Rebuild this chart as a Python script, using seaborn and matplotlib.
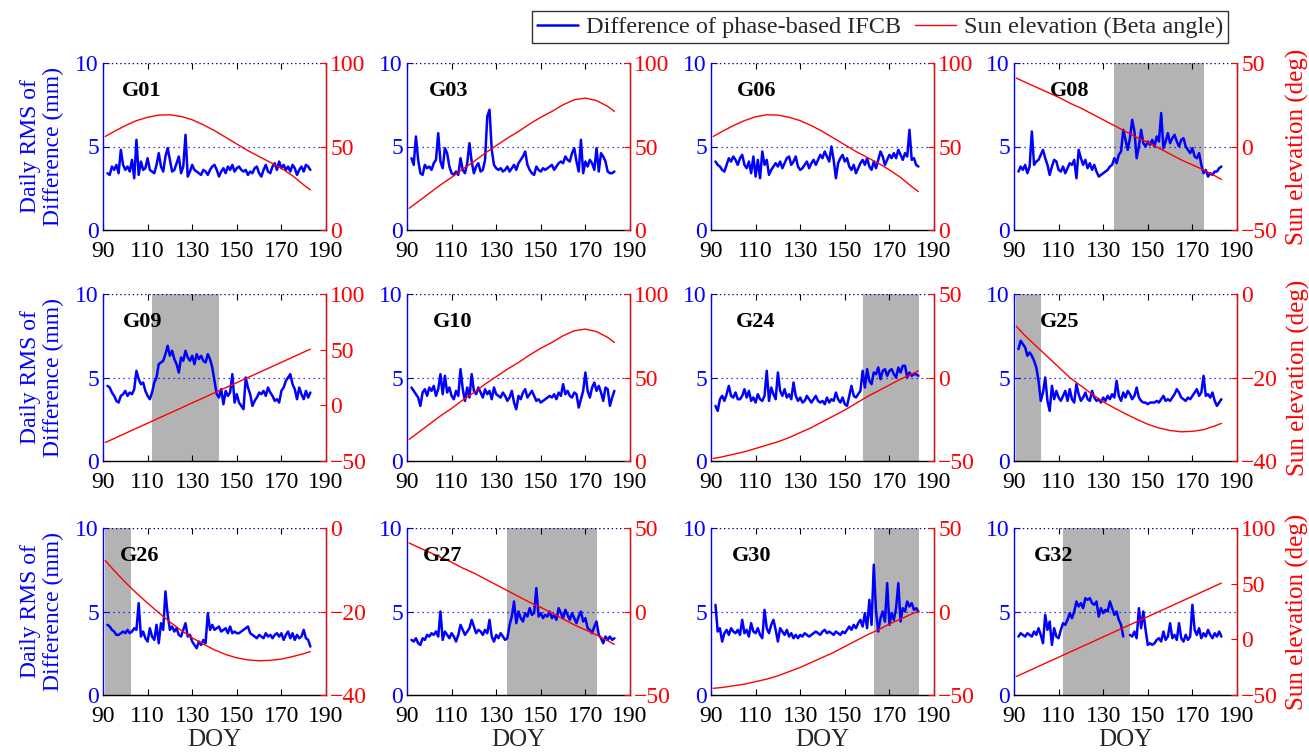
import numpy as np
import pandas as pd
import matplotlib
matplotlib.use("Agg")
import matplotlib.pyplot as plt
from matplotlib.lines import Line2D
import seaborn as sns

# ---------------- data ----------------
sats = ["G01", "G03", "G06", "G08", "G09", "G10", "G24", "G25", "G26", "G27", "G30", "G32"]
doy = list(range(92, 184))
nan = float("nan")

rms_G01 = [3.4, 3.3, 3.8, 3.6, 3.9, 3.4, 4.8, 3.9, 3.6, 3.8,
           3.5, 4.2, 3.1, 5.4, 3.3, 4.1, 3.6, 3.7, 4.3, 3.6,
           3.5, 3.4, 3.9, 4.6, 3.8, 3.5, 4.4, 4.9, 4.2, 3.5,
           3.6, 4.0, 4.4, 3.4, 3.8, 5.7, 3.2, 3.5, 3.9, 3.6,
           3.5, 3.4, 3.3, 3.6, 3.5, 3.3, 3.6, 3.8, 3.9, 3.6,
           3.2, 3.5, 3.7, 3.4, 3.8, 3.6, 3.9, 3.5, 3.7, 3.8,
           3.6, 3.5, 3.6, 3.3, 3.5, 3.4, 3.7, 3.8, 3.4, 3.2,
           3.6, 3.9, 3.5, 3.4, 3.8, 4.0, 3.6, 4.1, 3.7, 3.9,
           3.6, 3.8, 3.5, 3.9, 3.7, 3.3, 3.6, 3.8, 3.5, 3.9,
           3.8, 3.6]
rms_G03 = [4.3, 3.9, 5.6, 4.2, 3.4, 3.3, 3.9, 3.7, 3.8, 3.6,
           4.0, 4.2, 5.8, 4.1, 3.7, 4.9, 4.6, 3.8, 3.4, 3.3,
           3.5, 3.3, 4.3, 3.6, 3.4, 4.0, 5.2, 4.1, 3.4, 3.8,
           4.0, 3.5, 3.6, 4.2, 6.8, 7.2, 4.8, 3.9, 3.7, 3.6,
           3.7, 3.5, 3.6, 3.8, 3.5, 3.7, 3.9, 3.6, 4.0, 4.2,
           4.4, 4.7, 3.9, 3.6, 3.4, 3.3, 3.8, 3.6, 3.5, 3.7,
           3.6, 3.7, 3.8, 3.9, 3.6, 3.8, 4.0, 4.1, 4.0, 4.4,
           4.2, 4.1, 4.6, 4.9, 4.1, 3.5, 5.4, 3.4, 4.1, 3.8,
           4.2, 4.0, 3.6, 4.9, 3.5, 4.6, 4.4, 4.1, 3.5, 3.4,
           3.4, 3.5]
rms_G06 = [4.1, 3.9, 3.8, 3.6, 3.5, 3.9, 4.3, 4.1, 4.4, 4.2,
           3.9, 4.3, 4.5, 3.9, 3.7, 4.1, 3.4, 4.4, 3.2, 4.2,
           3.1, 4.7, 3.9, 4.2, 3.3, 3.6, 3.8, 4.0, 3.8, 4.1,
           3.7, 4.0, 4.3, 4.4, 3.9, 4.1, 4.4, 3.8, 3.6, 3.7,
           3.9, 4.1, 3.7, 4.0, 4.2, 3.9, 4.2, 4.5, 4.3, 4.7,
           4.4, 4.1, 5.0, 4.2, 3.1, 4.0, 4.3, 4.5, 4.1, 4.3,
           3.8, 3.6, 3.9, 3.4, 3.7, 4.0, 4.2, 3.9, 4.3, 3.8,
           3.6, 4.1, 3.7, 4.2, 4.7, 4.4, 3.9, 4.2, 4.5, 4.3,
           4.6, 4.3, 4.8, 4.5, 4.2, 4.6, 4.4, 6.0, 4.2, 4.3,
           3.9, 3.8]
rms_G08 = [3.5, 3.8, 3.6, 3.9, 3.4, 3.8, 5.9, 3.9, 4.1, 4.2,
           4.5, 4.8, 4.3, 3.9, 3.3, 3.8, 4.2, 4.1, 3.6, 3.5,
           3.8, 3.4, 3.7, 4.0, 3.9, 4.2, 3.1, 4.8, 4.3, 3.9,
           4.2, 3.7, 4.0, 3.6, 3.9, 3.5, 3.2, 3.3, 3.4, 3.5,
           3.6, 3.8, 3.9, 4.3, 4.0, 4.5, 4.7, 6.0, 5.4, 4.8,
           5.5, 6.6, 5.9, 4.3, 5.0, 6.0, 5.2, 5.0, 5.3, 5.1,
           5.4, 5.0, 5.6, 5.3, 7.0, 4.9, 5.3, 5.8, 5.2, 5.5,
           5.7, 5.3, 5.0, 5.4, 5.5, 5.0, 4.8, 4.6, 4.9, 4.4,
           4.3, 4.6, 3.9, 3.4, 3.6, 3.2, 3.4, 3.3, 3.5, 3.5,
           3.7, 3.8]
rms_G09 = [4.5, 4.4, 4.1, 3.9, 3.6, 3.5, 3.9, 4.0, 4.2, 3.9,
           4.1, 4.0, 4.3, 5.4, 4.9, 4.6, 4.7, 4.2, 3.9, 3.7,
           4.1, 4.7, 5.0, 5.8, 5.9, 6.0, 6.4, 6.9, 6.3, 6.6,
           6.1, 5.8, 5.3, 6.2, 6.0, 6.6, 6.2, 6.0, 6.3, 5.8,
           6.4, 6.1, 6.3, 6.0, 5.9, 6.4, 6.1, 5.6, 4.8, 4.0,
           3.8, 4.3, 3.4, 4.2, 3.9, 4.1, 5.2, 3.5, 4.0, 3.5,
           3.3, 3.1, 5.0, 4.4, 4.0, 3.3, 3.6, 3.8, 4.1, 4.0,
           4.2, 3.9, 4.4, 4.1, 3.9, 3.6, 3.7, 3.5, 4.2, 4.4,
           4.8, 5.0, 5.2, 4.6, 4.3, 3.7, 4.4, 4.0, 3.7, 4.2,
           3.8, 4.1]
rms_G10 = [4.4, 4.2, 4.0, 3.8, 3.3, 4.1, 4.3, 3.9, 4.4, 4.2,
           4.5, 3.9, 4.3, 5.2, 4.0, 5.1, 4.1, 4.4, 3.9, 3.7,
           4.2, 3.9, 5.5, 4.3, 3.6, 4.4, 3.8, 5.2, 4.2, 4.0,
           4.4, 4.1, 3.8, 4.3, 4.0, 4.2, 3.7, 4.4, 4.0, 3.9,
           3.8, 4.1, 3.9, 3.6, 3.8, 4.2, 3.5, 3.1, 3.9, 3.7,
           4.1, 4.3, 3.8, 4.0, 4.2, 3.9, 3.6, 3.7, 3.5, 3.6,
           3.7, 3.8, 3.9, 3.8, 4.0, 3.7, 4.1, 3.9, 4.6, 4.0,
           4.2, 3.9, 3.8, 4.1, 4.0, 3.2, 3.7, 4.2, 5.3, 4.2,
           3.8, 4.4, 4.7, 4.2, 4.5, 4.1, 3.6, 4.4, 4.3, 3.3,
           3.8, 4.2]
rms_G24 = [3.3, 3.0, 3.7, 3.9, 3.6, 4.0, 4.5, 3.9, 3.8, 4.1,
           3.7, 3.7, 3.9, 4.3, 3.8, 4.2, 3.6, 3.8, 3.5, 4.0,
           3.7, 3.6, 3.9, 5.4, 3.6, 4.4, 4.0, 3.7, 5.3, 4.2,
           3.9, 4.3, 3.8, 4.0, 3.7, 4.7, 3.9, 3.6, 3.8, 3.5,
           3.6, 3.9, 3.7, 3.5, 3.7, 3.9, 3.6, 3.5, 3.6, 3.4,
           3.8, 3.5, 3.7, 3.6, 4.1, 3.7, 3.5, 3.8, 3.4, 3.3,
           3.9, 4.5, 3.9, 3.8, 4.0, 4.2, 5.4, 4.4, 5.5, 4.8,
           4.6, 5.3, 5.2, 5.6, 4.9, 5.4, 5.5, 5.1, 5.4, 5.5,
           5.2, 5.0, 5.6, 5.3, 5.7, 5.7, 5.0, 5.3, 5.1, 5.2,
           5.2, 5.1]
rms_G25 = [6.7, 7.2, 7.0, 6.8, 6.3, 6.5, 6.3, 6.0, 5.6, 4.8,
           3.6, 4.1, 5.0, 3.6, 3.0, 4.5, 3.7, 4.2, 3.8, 3.6,
           3.9, 4.2, 3.6, 4.3, 3.7, 3.5, 4.6, 4.0, 3.6, 3.8,
           4.1, 3.7, 3.6, 4.2, 3.8, 3.6, 3.7, 3.5, 3.8, 3.6,
           3.9, 3.7, 4.0, 3.8, 4.8, 3.9, 3.6, 4.1, 3.8, 4.2,
           4.0, 3.7, 3.9, 4.4, 3.8, 3.6, 3.5, 3.5, 3.4, 3.5,
           3.5, 3.5, 3.6, 3.5, 3.7, 3.9, 3.6, 3.7, 3.6, 3.8,
           4.0, 4.3, 4.1, 3.8, 3.7, 3.6, 3.8, 3.7, 3.9, 4.1,
           4.3, 3.9, 4.1, 5.1, 3.9, 4.0, 3.8, 4.1, 3.6, 3.3,
           3.5, 3.7]
rms_G26 = [4.2, 4.1, 3.9, 3.8, 3.6, 3.6, 3.7, 3.8, 3.7, 3.9,
           3.7, 3.8, 4.0, 3.9, 5.5, 3.5, 3.8, 3.4, 3.2, 4.0,
           3.5, 3.3, 4.2, 3.1, 4.3, 3.9, 6.2, 4.8, 3.9, 4.1,
           3.8, 4.0, 3.6, 3.5, 3.9, 4.3, 3.5, 3.6, 3.2, 3.0,
           2.8, 3.2, 3.0, 3.3, 3.1, 4.9, 3.9, 4.2, 3.9, 4.0,
           4.1, 3.8, 3.9, 4.0, 3.7, 4.1, 3.7, 3.8, 3.7, 3.7,
           3.8, 3.9, 4.0, 4.1, 3.7, 3.6, 3.5, 3.4, 3.6, 3.5,
           3.4, 3.7, 3.5, 3.6, 3.4, 3.6, 3.7, 3.5, 3.7, 3.3,
           3.6, 3.8, 3.4, 3.7, 3.3, 3.6, 3.4, 3.5, 3.9, 3.4,
           3.3, 2.9]
rms_G27 = [3.3, 3.2, 3.4, 3.1, 3.0, 3.4, 3.3, 3.6, 3.5, 3.7,
           3.6, 3.8, 3.5, 5.0, 3.3, 3.8, 3.6, 3.4, 3.7, 3.5,
           3.2, 3.6, 4.2, 3.9, 3.6, 3.8, 4.0, 4.5, 4.1, 3.7,
           3.9, 3.8, 3.6, 3.9, 3.7, 4.5, 3.5, 3.2, 3.6, 3.4,
           3.7, 3.5, 3.3, 3.4, 4.2, 4.7, 5.6, 4.3, 5.0, 4.6,
           4.4, 4.9, 4.7, 5.2, 4.8, 4.9, 6.4, 4.7, 4.9, 4.6,
           4.8, 4.7, 5.0, 4.6, 4.8, 4.5, 5.2, 4.9, 4.6, 5.1,
           4.8, 4.5, 4.9, 4.6, 4.3, 4.7, 5.0, 4.4, 4.6, 4.0,
           3.9, 3.7, 4.1, 4.4, 3.6, 3.4, 3.1, 3.5, 3.3, 3.5,
           3.3, 3.4]
rms_G30 = [5.4, 3.8, 4.0, 3.2, 3.7, 3.9, 3.6, 4.0, 3.8, 3.7,
           3.9, 3.6, 4.5, 3.7, 3.9, 3.5, 4.3, 3.8, 3.7, 4.0,
           3.6, 3.4, 5.1, 4.0, 3.7, 4.2, 4.5, 3.9, 3.2, 4.0,
           3.8, 3.6, 3.9, 3.5, 3.7, 3.4, 3.6, 3.4, 3.6, 3.5,
           3.7, 3.6, 3.5, 3.6, 3.7, 3.8, 3.7, 3.6, 3.8, 3.9,
           3.7, 3.8, 3.7, 3.6, 3.8, 3.7, 3.6, 3.8, 3.7, 3.9,
           4.1, 3.9, 4.2, 4.0, 4.3, 4.5, 4.1, 4.9, 4.0, 5.7,
           4.2, 7.8, 5.0, 3.8, 4.6, 5.0, 4.4, 6.7, 4.2, 4.9,
           4.5, 5.2, 6.7, 4.4, 5.2, 5.0, 5.6, 5.3, 5.5, 5.1,
           5.2, 5.0]
rms_G32 = [3.5, 3.7, 3.6, 3.5, 3.7, 3.6, 3.5, 3.8, 3.6, 4.0,
           3.6, 3.1, 4.8, 3.9, 4.4, 3.0, 4.0, 3.5, 3.4, 3.9,
           4.3, 4.2, 4.5, 4.9, 4.6, 5.0, 5.6, 5.3, 5.5, 5.2,
           5.8, 5.7, 5.8, 5.5, 5.4, 5.6, 4.7, 5.2, 4.9, 5.1,
           5.0, 5.6, 5.2, 4.8, 5.0, 4.5, 4.2, 3.5, nan, nan,
           3.6, 3.5, 3.8, 3.4, 5.2, 4.0, 5.0, 3.9, 3.0, 3.1,
           3.0, 3.1, 3.3, 3.4, 3.2, 3.8, 3.3, 3.5, 4.3, 3.4,
           3.6, 3.3, 4.3, 3.4, 3.2, 3.6, 3.3, 3.5, 5.4, 3.9,
           3.6, 4.0, 3.4, 3.7, 3.5, 3.9, 3.6, 3.4, 3.7, 3.5,
           3.8, 3.5]

sun_doy = [91, 95, 100, 105, 110, 115, 120, 125, 130, 135, 140, 145, 150, 155, 160, 165, 170, 175, 180, 183]
sun_G01 = [56, 59, 62.5, 65.5, 67.5, 68.8, 69, 68, 66, 63, 59.5, 55.5, 51.5, 47.5, 44, 40.5, 37, 32.5, 27, 24]
sun_G03 = [13, 17, 22, 27, 31.5, 36.5, 41, 46, 50.5, 55, 59, 63.5, 67.5, 71, 75, 78, 79, 77.5, 74, 71]
sun_G06 = [56, 59, 62.5, 65.5, 67.8, 69, 68.8, 67.5, 65.5, 62.5, 59, 55, 51, 47, 43.5, 40, 36, 31.5, 26, 23]
sun_G08 = [41, 38.5, 35.5, 32.5, 29.5, 26, 23, 19.5, 16, 12.5, 9, 5.5, 2.5, -1, -4.5, -8, -11, -14, -17.5, -19.7]
sun_G09 = [-33.4, -29.8, -25.2, -20.6, -16.1, -11.5, -7, -2.4, 2.2, 6.7, 11.3, 15.8, 20.4, 25, 29.5, 34.1, 38.6, 43.2, 47.8, 50.5]
sun_G10 = [13, 17, 22, 27, 31.5, 36.5, 41, 46, 50.5, 55, 59, 63.5, 67.5, 71, 75, 78, 79, 77.5, 74, 71]
sun_G24 = [-48.5, -47.5, -46, -44.5, -42.5, -40.5, -38.5, -36, -33, -30, -26.5, -23, -19.5, -15.5, -11.5, -8, -4.5, -1, 2, 4]
sun_G25 = [-7.7, -10, -12.5, -15, -17.5, -20, -22, -24, -25.8, -27.3, -28.7, -30, -31.2, -32.1, -32.7, -33, -32.9, -32.5, -31.6, -31]
sun_G26 = [-7.8, -10.2, -13, -15.6, -18, -20.3, -22.5, -24.5, -26.3, -27.8, -29.2, -30.3, -31.1, -31.6, -31.8, -31.7, -31.4, -30.8, -30.1, -29.6]
sun_G27 = [41, 38.5, 35.5, 32.5, 29.5, 26, 23, 19.5, 16, 12.5, 9, 5.5, 2.5, -1, -4.5, -8, -11, -14, -17.5, -19.7]
sun_G30 = [-46, -45.5, -44.5, -43.5, -42, -40.5, -38.5, -36, -33.5, -30.5, -27.5, -24.5, -21, -17.5, -14, -11, -7.5, -4.5, -1.5, 0.3]
sun_G32 = [-33.4, -29.8, -25.2, -20.6, -16.1, -11.5, -7, -2.4, 2.2, 6.7, 11.3, 15.8, 20.4, 25, 29.5, 34.1, 38.6, 43.2, 47.8, 50.5]

# eclipse-season shading (DOY start, end)
shade = {"G08": (135, 175), "G09": (112, 142), "G24": (158, 183.3), "G25": (91, 102),
         "G26": (91, 102.5), "G27": (135, 175), "G30": (163, 183.3), "G32": (112, 142)}

# right axis ranges (min, max, step)
right_rng = {"G01": (0, 100, 50), "G03": (0, 100, 50), "G06": (0, 100, 50), "G08": (-50, 50, 50),
             "G09": (-50, 100, 50), "G10": (0, 100, 50), "G24": (-50, 50, 50), "G25": (-40, 0, 20),
             "G26": (-40, 0, 20), "G27": (-50, 50, 50), "G30": (-50, 50, 50), "G32": (-50, 100, 50)}

rms = {"G01": rms_G01, "G03": rms_G03, "G06": rms_G06, "G08": rms_G08, "G09": rms_G09, "G10": rms_G10,
       "G24": rms_G24, "G25": rms_G25, "G26": rms_G26, "G27": rms_G27, "G30": rms_G30, "G32": rms_G32}
sun = {"G01": sun_G01, "G03": sun_G03, "G06": sun_G06, "G08": sun_G08, "G09": sun_G09, "G10": sun_G10,
       "G24": sun_G24, "G25": sun_G25, "G26": sun_G26, "G27": sun_G27, "G30": sun_G30, "G32": sun_G32}

xticks = [90, 110, 130, 150, 170, 190]

# ---------------- style ----------------
sns.set_style("ticks")
plt.rcParams["font.family"] = ["Liberation Serif", "DejaVu Serif"]

W, H = 1309, 756
fig = plt.figure(figsize=(W / 100, H / 100), dpi=100)

lefts_px = [103, 407, 711, 1014]
tops_px = [63, 294, 528]
aw, ah = 223, 167
label_x = {"G01": 0.085, "G03": 0.10, "G06": 0.115, "G08": 0.16, "G09": 0.09, "G10": 0.115,
           "G24": 0.11, "G25": 0.115, "G26": 0.075, "G27": 0.07, "G30": 0.094, "G32": 0.087}

BLUE = "#0000ff"
RED = "#ff0000"
TICKFS = 17

for i, sat in enumerate(sats):
    r, c = divmod(i, 4)
    ax = fig.add_axes([lefts_px[c] / W, 1 - (tops_px[r] + ah) / H, aw / W, ah / H])
    if sat in shade:
        s0, s1 = shade[sat]
        ax.axvspan(s0, s1, color="#b3b3b3", lw=0, zorder=0)
    ax.axhline(5, color=BLUE, ls=(0, (1, 3)), lw=0.9, zorder=1)
    ax.axhline(10, color="#000080", ls=(0, (1, 2)), lw=1.0, zorder=1)

    y = np.array(rms[sat], dtype=float)
    seg = np.cumsum(np.isnan(y))
    df = pd.DataFrame({"doy": doy, "rms": y, "seg": seg}).dropna()
    sns.lineplot(data=df, x="doy", y="rms", units="seg", estimator=None,
                 color=BLUE, lw=1.8, ax=ax, zorder=3)
    ax.set_xlim(90, 190)
    ax.set_ylim(0, 10)
    ax.set_xticks(xticks)
    ax.set_yticks([0, 5, 10])
    ax.tick_params(axis="x", direction="in", top=True, length=4, labelsize=TICKFS, colors="black", pad=8)
    ax.tick_params(axis="y", direction="in", length=4, labelsize=TICKFS, colors=BLUE, pad=3)
    ax.spines["left"].set_color(BLUE)
    ax.spines["top"].set_visible(False)
    ax.spines["bottom"].set_color("black")
    for sp in ax.spines.values():
        sp.set_linewidth(1.0)
    ax.set_xlabel("")
    ax.set_ylabel("")

    ax2 = ax.twinx()
    lo, hi, st = right_rng[sat]
    sdf = pd.DataFrame({"doy": sun_doy, "sun": sun[sat]})
    sns.lineplot(data=sdf, x="doy", y="sun", color=RED, lw=1.0, ax=ax2, estimator=None)
    ax2.set_ylim(lo, hi)
    ax2.set_yticks(list(range(lo, hi + 1, st)))
    ax2.tick_params(axis="y", direction="in", length=4, labelsize=TICKFS, colors=RED, pad=3)
    ax2.spines["right"].set_color(RED)
    ax2.spines["left"].set_visible(False)
    ax2.spines["top"].set_visible(False)
    ax2.spines["bottom"].set_visible(False)
    ax2.set_xlabel("")
    ax2.set_ylabel("")

    ax2.text(label_x[sat], 0.83, sat, transform=ax.transAxes, fontsize=16, fontweight="bold",
             ha="left", va="center", color="black", zorder=10)

    if c == 0:
        ax.set_ylabel("Daily RMS of\nDifference (mm)", color=BLUE, fontsize=17, labelpad=8, linespacing=1.1)
    if c == 3:
        ax2.set_ylabel("Sun elevation (deg)", color=RED, fontsize=18, labelpad=6)
    if r == 2:
        ax.set_xlabel("DOY", fontsize=18, labelpad=1)

handles = [Line2D([], [], color=BLUE, lw=1.8), Line2D([], [], color=RED, lw=1.0)]
leg = fig.legend(handles, ["Difference of phase-based IFCB", "Sun elevation (Beta angle)"],
                 loc="center", bbox_to_anchor=(880 / W, 1 - 27 / H), ncol=2, fontsize=17.5,
                 frameon=True, fancybox=False, edgecolor="black", handlelength=1.7,
                 columnspacing=0.6, borderpad=0.2, handletextpad=0.3, borderaxespad=0)
leg.get_frame().set_linewidth(1.0)

fig.savefig("out.png", dpi=100)
